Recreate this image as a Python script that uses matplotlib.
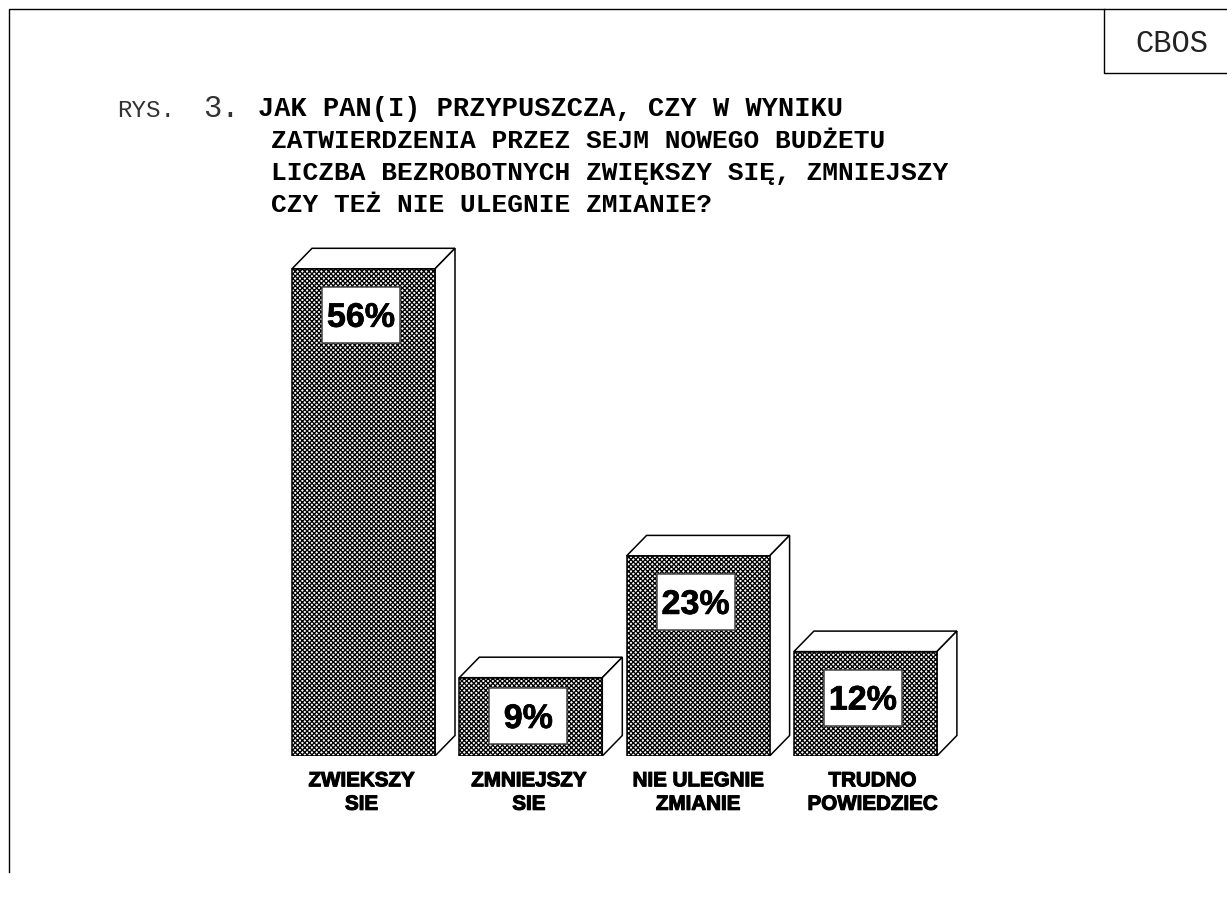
"""CBOS bar figure: expected change in unemployment after the budget vote."""
import matplotlib
matplotlib.use("Agg")
import matplotlib.patheffects as pe
import matplotlib.pyplot as plt
from matplotlib.patches import Polygon
from matplotlib.transforms import ScaledTranslation

W, H = 1227, 898
DPI = 100

categories = ["ZWIEKSZY\nSIE", "ZMNIEJSZY\nSIE", "NIE ULEGNIE\nZMIANIE", "TRUDNO\nPOWIEDZIEC"]
values = [56, 9, 23, 12]
value_labels = ["56%", "9%", "23%", "12%"]
title_lines = [
    "JAK PAN(I) PRZYPUSZCZA, CZY W WYNIKU",
    "ZATWIERDZENIA PRZEZ SEJM NOWEGO BUDŻETU",
    "LICZBA BEZROBOTNYCH ZWIĘKSZY SIĘ, ZMNIEJSZY",
    "CZY TEŻ NIE ULEGNIE ZMIANIE?",
]

MONO = "Liberation Mono"
PX_PER_PCT = 8.7
PX_PER_CAT = 167.3
BAR_WIDTH = 143 / PX_PER_CAT
DEPTH_X = 20 / PX_PER_CAT
DEPTH_Y = 20.5 / PX_PER_PCT
LABEL_SHIFT_PX = [-2, -2, 0, 7]

plt.rcParams["hatch.linewidth"] = 0.95

fig = plt.figure(figsize=(W / DPI, H / DPI), dpi=DPI)

# page furniture in pixel coordinates
page = fig.add_axes([0, 0, 1, 1])
page.set_xlim(0, W)
page.set_ylim(H, 0)
page.axis("off")
page.plot([W, 9, 9], [9, 9, 872], color="black", lw=1)
page.plot([1104, 1104, W], [9, 73, 73], color="black", lw=1)
page.text(1171.5, 52, "CBOS", family=MONO, fontsize=22, ha="center", va="baseline", color="#222222")
page.text(117, 117, "RYS.", family=MONO, fontsize=17.4, ha="left", va="baseline", color="#333333")
page.text(203, 117, "3.", family=MONO, fontsize=22, ha="left", va="baseline", color="#333333")
page.text(258, 116, title_lines[0], family=MONO, fontsize=19.45, fontweight="bold",
          ha="left", va="baseline")
for i, line in enumerate(title_lines[1:], start=1):
    page.text(271, 116 + i * 32, line, family=MONO, fontsize=18.95, fontweight="bold",
              ha="left", va="baseline")

# bars in data coordinates
left, right, top, base = 280, 980, 240, 756
ax = fig.add_axes([left / W, 1 - base / H, (right - left) / W, (base - top) / H])
ax.set_xlim((left - 363.5) / PX_PER_CAT, (right - 363.5) / PX_PER_CAT)
ax.set_ylim(0, (base - top) / PX_PER_PCT)
ax.patch.set_visible(False)
for s in ax.spines.values():
    s.set_visible(False)
ax.set_yticks([])

xs = list(range(len(values)))
ax.bar(xs, values, width=BAR_WIDTH, facecolor="white", edgecolor="black",
       hatch="xxxxxxx", linewidth=1.1, zorder=3)

for x, v, lab in zip(xs, values, value_labels):
    x0, x1 = x - BAR_WIDTH / 2, x + BAR_WIDTH / 2
    # top and side faces of the box
    ax.add_patch(Polygon([(x0, v), (x0 + DEPTH_X, v + DEPTH_Y), (x1 + DEPTH_X, v + DEPTH_Y), (x1, v)],
                         facecolor="white", edgecolor="black", lw=1.1, zorder=2))
    ax.add_patch(Polygon([(x1, 0), (x1 + DEPTH_X, DEPTH_Y), (x1 + DEPTH_X, v + DEPTH_Y), (x1, v)],
                         facecolor="white", edgecolor="black", lw=1.1, zorder=2))
    # label plate stays 12 px above base, else 18 px below the bar top
    cy = max(40 / PX_PER_PCT, v - 46 / PX_PER_PCT)
    cx = x - 2.5 / PX_PER_CAT
    ax.add_patch(plt.Rectangle((cx - 39 / PX_PER_CAT, cy - 28 / PX_PER_PCT), 78 / PX_PER_CAT, 56 / PX_PER_PCT,
                               facecolor="white", edgecolor="#444444", lw=1.1, zorder=4))
    ax.text(cx, cy, lab, family="Liberation Sans", fontweight="bold", fontsize=24.5,
            ha="center", va="center_baseline", zorder=5,
            path_effects=[pe.withStroke(linewidth=0.5, foreground="black")])

ax.set_xticks(xs, categories, family="Liberation Sans", fontweight="bold", fontsize=14.8,
              linespacing=1.3, path_effects=[pe.withStroke(linewidth=0.8, foreground="black")])
ax.tick_params(axis="x", length=0, pad=11)
for tick_label, shift in zip(ax.get_xticklabels(), LABEL_SHIFT_PX):
    tick_label.set_transform(tick_label.get_transform()
                             + ScaledTranslation(shift / DPI, 0, fig.dpi_scale_trans))

fig.savefig("out.png", dpi=DPI)
